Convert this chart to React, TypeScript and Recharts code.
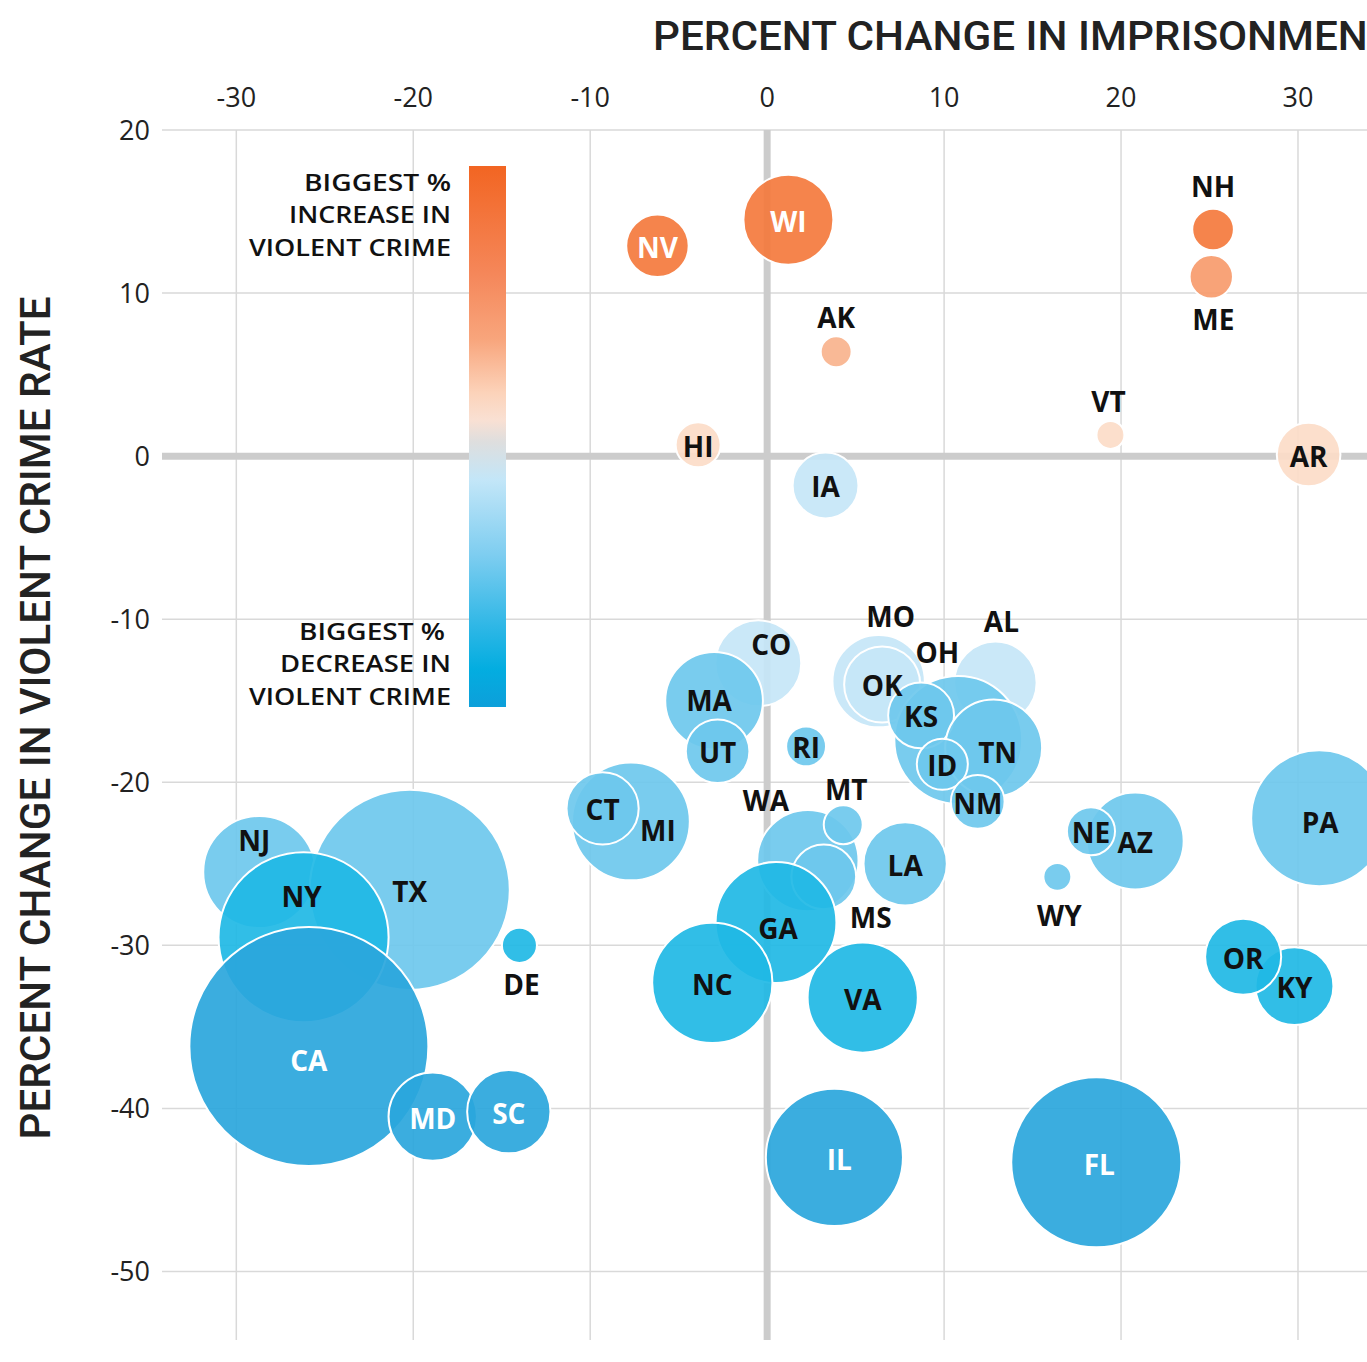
import { ScatterChart, Scatter, XAxis, YAxis, ZAxis, CartesianGrid, ReferenceLine } from "recharts";

// array order = drawing order (later bubbles sit on top)
const states = [
  "NJ", "TX", "NY", "CA", "MD", "SC", "DE", "MI", "CT", "CO", "MA", "UT", "RI", "MO", "OK",
  "AL", "OH", "KS", "TN", "ID", "NM", "VA", "WA", "MS", "MT", "LA", "GA", "NC", "IL", "FL",
  "AZ", "NE", "WY", "PA", "KY", "OR", "WI", "NV", "AK", "HI", "IA", "NH", "ME", "VT", "AR",
];

// percent change in imprisonment rate
const imprisonmentChange = [
  -28.7, -20.2, -26.2, -25.9, -18.9, -14.6, -14.0, -7.7, -9.3, -0.5, -3.0, -2.8, 2.2, 6.3, 6.5,
  12.9, 10.8, 8.7, 12.8, 9.9, 11.9, 5.4, 2.3, 3.2, 4.3, 7.8, 0.5, -3.1, 3.8, 18.6,
  20.8, 18.3, 16.4, 31.2, 29.8, 26.9, 1.2, -6.2, 3.9, -3.9, 3.3, 25.2, 25.1, 19.4, 30.6,
];

// percent change in violent crime rate
const violentCrimeChange = [
  -25.5, -26.6, -29.5, -36.2, -40.5, -40.2, -30.0, -22.4, -21.6, -12.7, -15.0, -18.1, -17.8, -13.8, -14.0,
  -13.9, -17.4, -15.9, -17.9, -18.9, -21.2, -33.2, -24.8, -25.8, -22.6, -25.0, -28.6, -32.3, -43.0, -43.3,
  -23.6, -23.0, -25.8, -22.2, -32.5, -30.7, 14.5, 12.9, 6.4, 0.7, -1.8, 13.9, 11.0, 1.3, 0.1,
];

// population in millions (bubble area)
const population = [
  8.7, 27.7, 20.0, 39.5, 5.4, 4.8, 0.85, 9.6, 3.6, 5.1, 6.6, 2.8, 1.1, 5.9, 4.0,
  4.7, 11.3, 3.0, 6.5, 1.8, 2.0, 8.4, 7.1, 2.9, 1.05, 4.8, 10.1, 10.0, 13.0, 20.0,
  6.5, 1.6, 0.54, 12.8, 4.2, 4.0, 5.6, 2.7, 0.66, 1.4, 3.0, 1.2, 1.3, 0.54, 2.8,
];

const xTicks = [-30, -20, -10, 0, 10, 20, 30];
const yTicks = [20, 10, 0, -10, -20, -30, -40, -50];

const data = states.map((state, i) => ({
  state,
  x: imprisonmentChange[i],
  y: violentCrimeChange[i],
  pop: population[i],
}));

// labels placed outside / off-centre of their bubble
const labelOffset: Record<string, [number, number]> = {
  AK: [0, -34], NH: [0, -42], ME: [2, 43], VT: [-2, -33], CO: [13, -18], MO: [12, -64],
  AL: [6, -61], OH: [-21, -87], MT: [3, -35], WA: [-42, -60], MS: [47, 41], MI: [27, 10],
  NJ: [-5, -31], NY: [-2, -40], CA: [0, 15], DE: [2, 40], WY: [2, 39], TN: [4, 5],
  MA: [-5, 0], GA: [2, 6], IL: [5, 3], FL: [3, 3], PA: [1, 5],
};
const outsideLabels = ["AK", "NH", "ME", "VT", "MO", "AL", "OH", "MT", "WA", "MS", "DE", "WY"];

function bubbleColor(v: number): string {
  if (v > 12) return "#f47a3d";
  if (v > 10) return "#f79b6d";
  if (v > 5) return "#f9b38d";
  if (v >= 0) return "#fcdcc8";
  if (v > -14.5) return "#c5e6f7";
  if (v > -28) return "#6ec8ed";
  if (v > -35) return "#1fb9e5";
  return "#2aa6dc";
}

const FONT = "'Open Sans', sans-serif";

function Bubble(props: any) {
  const { cx, cy, size, payload } = props;
  const r = Math.sqrt(size / Math.PI);
  return (
    <circle
      cx={cx}
      cy={cy}
      r={r}
      fill={bubbleColor(payload.y)}
      fillOpacity={0.92}
      stroke="#ffffff"
      strokeWidth={2}
    />
  );
}

function BubbleLabel(props: any) {
  const { cx, cy, payload } = props;
  const [dx, dy] = labelOffset[payload.state] ?? [0, 2];
  const inside = !outsideLabels.includes(payload.state);
  const white = inside && (payload.y > 12 || payload.y < -35);
  return (
    <text
      x={cx + dx}
      y={cy + dy + 10}
      textAnchor="middle"
      fontFamily={FONT}
      fontWeight={700}
      fontSize={28}
      fill={white ? "#ffffff" : "#111111"}
    >
      {payload.state}
    </text>
  );
}

const tickStyle = { fontSize: 27, fill: "#222", fontFamily: FONT };

const legendLines = [
  { text: "BIGGEST %", x: 451, y: 191, w: 147 },
  { text: "INCREASE IN", x: 451, y: 223, w: 162 },
  { text: "VIOLENT CRIME", x: 451, y: 256, w: 202 },
  { text: "BIGGEST %", x: 445, y: 640, w: 146 },
  { text: "DECREASE IN", x: 451, y: 672, w: 171 },
  { text: "VIOLENT CRIME", x: 451, y: 705, w: 202 },
];

export default function App() {
  return (
    <div
      style={{
        position: "absolute",
        left: 0,
        top: 0,
        width: 1367,
        height: 1362,
        overflow: "hidden",
        background: "#fff",
      }}
    >
      <ScatterChart width={1367} height={1362} margin={{ top: 90, right: 0, bottom: 22, left: 100 }}>
        <CartesianGrid stroke="#d9d9d9" strokeWidth={1.5} syncWithTicks />
        <XAxis
          type="number"
          dataKey="x"
          orientation="top"
          domain={[-34.2, 33.9]}
          allowDataOverflow
          ticks={xTicks}
          height={40}
          axisLine={false}
          tickLine={false}
          tickMargin={17}
          tick={tickStyle}
        />
        <YAxis
          type="number"
          dataKey="y"
          domain={[-54.2, 20]}
          allowDataOverflow
          ticks={yTicks}
          width={62}
          axisLine={false}
          tickLine={false}
          tickMargin={6}
          tick={tickStyle}
        />
        <ZAxis type="number" dataKey="pop" domain={[0, 39.5]} range={[0, Math.PI * 119.5 * 119.5]} />
        <ReferenceLine x={0} stroke="#cccccc" strokeWidth={7} />
        <ReferenceLine y={0} stroke="#cccccc" strokeWidth={7} />
        <Scatter data={data} shape={<Bubble />} isAnimationActive={false} />
        <Scatter data={data} shape={<BubbleLabel />} isAnimationActive={false} />
      </ScatterChart>

      <svg
        width={1367}
        height={1362}
        style={{ position: "absolute", left: 0, top: 0, pointerEvents: "none" }}
      >
        <defs>
          <linearGradient id="crimeScale" x1="0" y1="0" x2="0" y2="1">
            <stop offset="0" stopColor="#f26522" />
            <stop offset="0.2" stopColor="#f5875a" />
            <stop offset="0.32" stopColor="#f8a57c" />
            <stop offset="0.42" stopColor="#fcd3ba" />
            <stop offset="0.47" stopColor="#f9e0d3" />
            <stop offset="0.51" stopColor="#dedede" />
            <stop offset="0.58" stopColor="#c3e6f8" />
            <stop offset="0.72" stopColor="#7dcdf0" />
            <stop offset="0.85" stopColor="#2fb7e6" />
            <stop offset="0.93" stopColor="#03ade0" />
            <stop offset="1" stopColor="#0d9fda" />
          </linearGradient>
        </defs>
        <rect x={469} y={166} width={37} height={541} fill="url(#crimeScale)" />
        <g fontFamily={FONT} fontWeight={600} fontSize={24} fill="#111" textAnchor="end">
          {legendLines.map((l, i) => (
            <text key={i} x={l.x} y={l.y} textLength={l.w} lengthAdjust="spacingAndGlyphs">
              {l.text}
            </text>
          ))}
        </g>
        <text
          x={653}
          y={50}
          fontFamily="Roboto, sans-serif"
          fontWeight={500}
          fontSize={40}
          fill="#222"
          textLength={740}
          lengthAdjust="spacingAndGlyphs"
        >
          PERCENT CHANGE IN IMPRISONMENT
        </text>
        <text
          x={50}
          y={718}
          transform="rotate(-90 50 718)"
          textAnchor="middle"
          fontFamily="Roboto, sans-serif"
          fontWeight={500}
          fontSize={42}
          fill="#222"
          textLength={843}
          lengthAdjust="spacingAndGlyphs"
        >
          PERCENT CHANGE IN VIOLENT CRIME RATE
        </text>
      </svg>
    </div>
  );
}
